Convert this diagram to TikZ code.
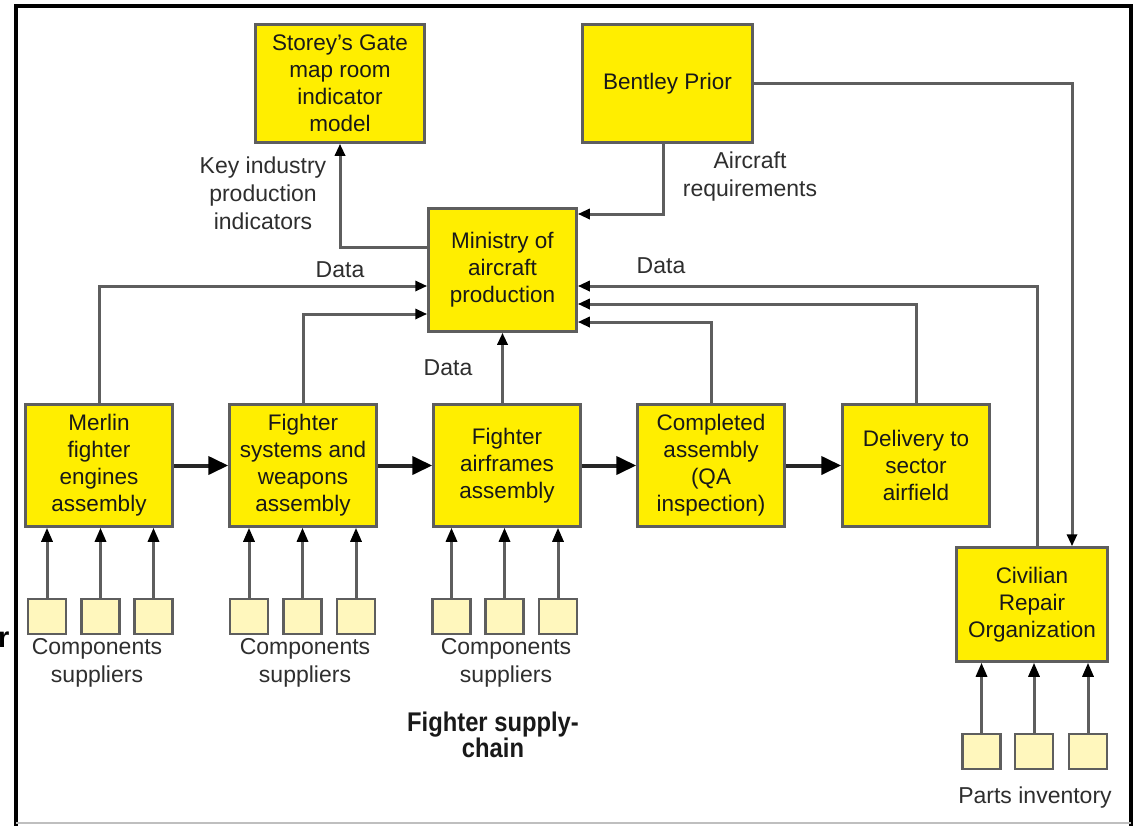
\documentclass[tikz,border=0pt]{standalone}
\usepackage{fontspec}
\setmainfont{Liberation Sans}
\usetikzlibrary{arrows.meta,calc}
\definecolor{byel}{HTML}{FFEE00}
\definecolor{lyel}{HTML}{FFF7BD}
\definecolor{lgray}{HTML}{5E5E5E}
\definecolor{tgray}{HTML}{2E2E2E}
\begin{document}
\begin{tikzpicture}[x=1pt,y=-1pt,
 ybox/.style={draw=lgray,line width=2.5pt,fill=byel,align=center,inner sep=0pt,font=\fontsize{22.5}{27}\selectfont,text=black!90},
 sq/.style={draw=lgray,line width=2.5pt,fill=lyel,minimum width=38pt,minimum height=35pt,inner sep=0pt},
 lbl/.style={align=center,text=tgray,font=\fontsize{23}{28}\selectfont,inner sep=0pt},
 conn/.style={draw=lgray,line width=3pt,-{Triangle[length=12pt,width=10pt,color=black]}},
 flow/.style={draw=black!85,line width=4pt,-{Triangle[length=20pt,width=18pt,color=black]}},
]
\useasboundingbox (0,0) rectangle (1135,825);
\clip (0,0) rectangle (1135,825);
\fill[white] (0,0) rectangle (1135,825);
% frame
\draw[black,line width=4pt] (16,826) -- (16,5.5) -- (1131,5.5) -- (1131,826);
\draw[black!25,line width=1.5pt] (16,823) -- (1131,823);
\node[anchor=base west,inner sep=0pt,font=\bfseries\fontsize{29}{29}\selectfont,text=black] (rr) at (-2,647) {r};

% boxes
\node[ybox,minimum width=169pt,minimum height=118pt] (store) at (340,83.5) {Storey's Gate\\map room\\indicator\\model};
\node[ybox,minimum width=170pt,minimum height=118pt] (bent) at (667.5,83.5) {Bentley Prior};
\node[ybox,minimum width=148pt,minimum height=123pt] (min) at (502.5,270) {Ministry of\\aircraft\\production};
\node[ybox,minimum width=147pt,minimum height=122pt] (merl) at (99,465.5) {Merlin\\fighter\\engines\\assembly};
\node[ybox,minimum width=147pt,minimum height=122pt] (sys) at (303,465.5) {Fighter\\systems and\\weapons\\assembly};
\node[ybox,minimum width=147pt,minimum height=122pt] (air) at (507,465.5) {Fighter\\airframes\\assembly};
\node[ybox,minimum width=147pt,minimum height=122pt] (comp) at (711,465.5) {Completed\\assembly\\(QA\\inspection)};
\node[ybox,minimum width=147pt,minimum height=122pt] (deliv) at (916,465.5) {Delivery to\\sector\\airfield};
\node[ybox,minimum width=151pt,minimum height=114pt] (civ) at (1032,604.5) {Civilian\\Repair\\Organization};

% supplier squares
\node[sq] (a1) at (47,616.5) {};
\node[sq] (a2) at (100.5,616.5) {};
\node[sq] (a3) at (153.5,616.5) {};
\node[sq] (b1) at (249,616.5) {};
\node[sq] (b2) at (302.5,616.5) {};
\node[sq] (b3) at (356,616.5) {};
\node[sq] (c1) at (451.5,616.5) {};
\node[sq] (c2) at (504.5,616.5) {};
\node[sq] (c3) at (558,616.5) {};
\node[sq] (p1) at (981.5,751.5) {};
\node[sq] (p2) at (1034,751.5) {};
\node[sq] (p3) at (1088,751.5) {};

\foreach \s/\b in {a1/merl,a2/merl,a3/merl,b1/sys,b2/sys,b3/sys,c1/air,c2/air,c3/air,p1/civ,p2/civ,p3/civ}
  \draw[conn,-{Triangle[length=14pt,width=11pt,color=black]}] (\s.north) -- (\s.north |- \b.south);

% flow arrows
\draw[flow] (merl.east) -- (sys.west);
\draw[flow] (sys.east) -- (air.west);
\draw[flow] (air.east) -- (comp.west);
\draw[flow] (comp.east) -- (deliv.west);

% connectors to/from ministry
\draw[conn] ([yshift=23pt]min.west) -| (store.south);
\draw[conn] (merl.north) |- ([yshift=-16pt]min.west);
\draw[conn] (sys.north) |- ([yshift=-44pt]min.west);
\draw[conn] (air.north -| min.south) -- (min.south);
\draw[conn] ([xshift=-4.5pt]bent.south) |- ([yshift=56pt]min.east);
\draw[conn] (bent.east) -| ([xshift=40pt]civ.north);
\draw[conn] ([xshift=5pt]civ.north) |- ([yshift=-16pt]min.east);
\draw[conn] (deliv.north) |- ([yshift=-34pt]min.east);
\draw[conn] (comp.north) |- ([yshift=-52pt]min.east);

% labels
\node[lbl] (l1) at (263,193) {Key industry\\production\\indicators};
\node[lbl] (l2) at (340,270) {Data};
\node[lbl] (l3) at (750,177) {Aircraft\\requirements};
\node[lbl] (l4) at (661,266) {Data};
\node[lbl] (l5) at (448,368) {Data};
\node[lbl] (l6) at (97,663) {Components\\suppliers};
\node[lbl] (l7) at (305,663) {Components\\suppliers};
\node[lbl] (l8) at (506,663) {Components\\suppliers};
\node[lbl] (l9) at (1035,798) {Parts inventory};
\node[align=center,inner sep=0pt,text=black!90,font=\bfseries\fontsize{27}{25}\selectfont] (title) at (493,735) {\scalebox{0.88}[1]{Fighter supply-}\\\scalebox{0.88}[1]{chain}};
\end{tikzpicture}
\end{document}
